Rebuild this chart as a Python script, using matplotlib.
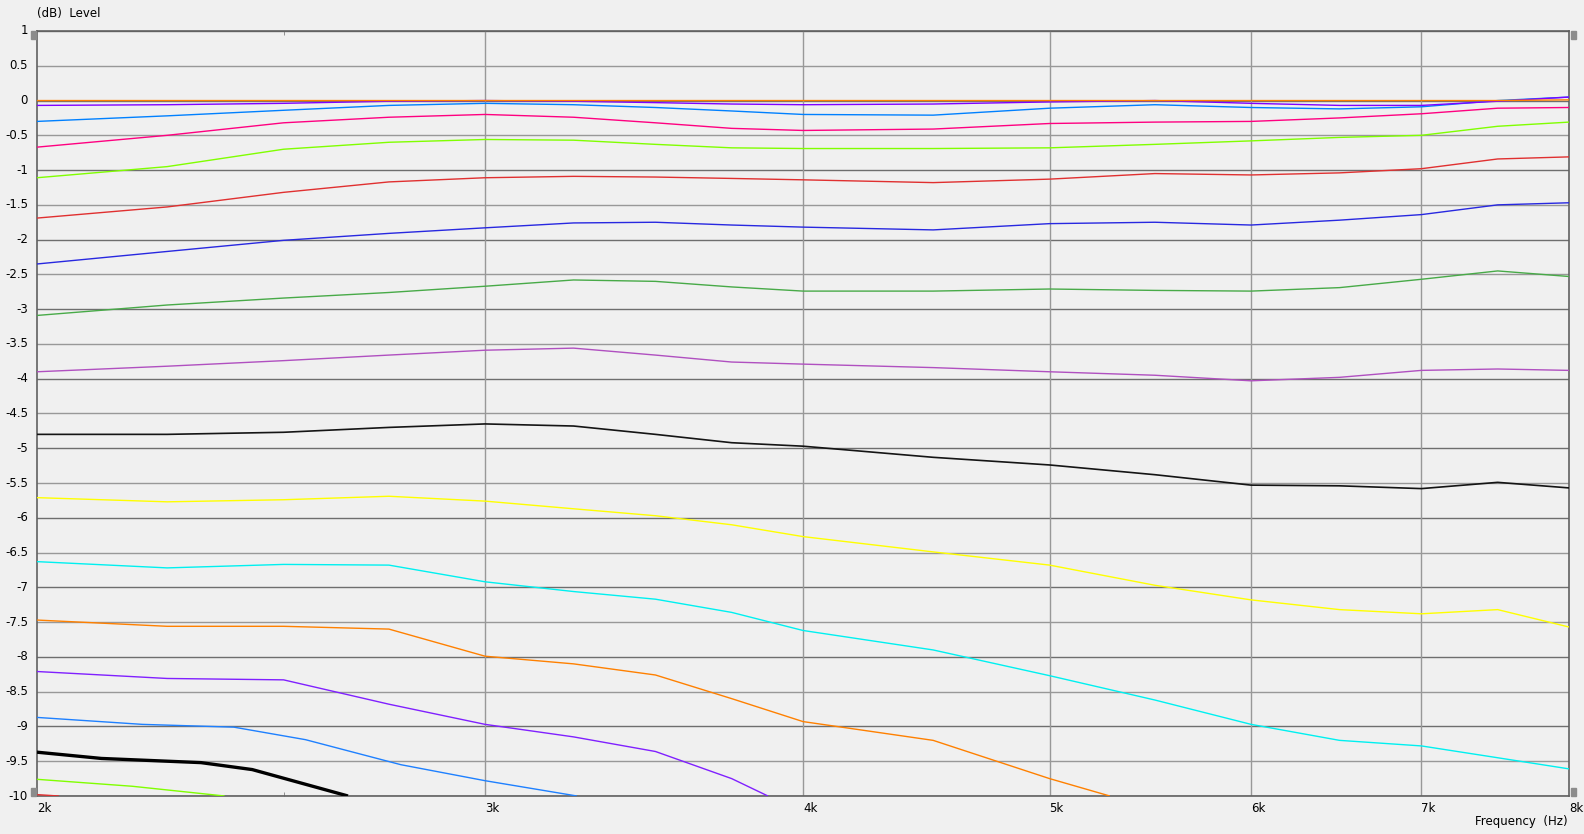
import matplotlib.pyplot as plt
from matplotlib.patches import Rectangle
from matplotlib.transforms import blended_transform_factory

# frequencies (Hz) shared by the full-width curves
freq = [2000, 2250, 2500, 2750, 3000, 3250, 3500, 3750, 4000,
        4500, 5000, 5500, 6000, 6500, 7000, 7500, 8000]

lvl_orange0 = [0, 0, 0, 0, 0, 0, 0, 0, 0, 0, 0, 0, 0, 0, 0, 0, 0.01]
lvl_violet0 = [-0.07, -0.06, -0.04, -0.01, 0.0, -0.01, -0.03, -0.05, -0.06,
               -0.05, -0.02, 0.0, -0.04, -0.07, -0.07, -0.01, 0.05]
lvl_blue0 = [-0.3, -0.22, -0.14, -0.07, -0.04, -0.06, -0.1, -0.15, -0.2,
             -0.21, -0.11, -0.06, -0.1, -0.12, -0.09, 0.0, 0.05]
lvl_pink = [-0.67, -0.5, -0.32, -0.24, -0.2, -0.24, -0.32, -0.4, -0.43,
            -0.41, -0.33, -0.31, -0.3, -0.25, -0.19, -0.11, -0.1]
lvl_lime0 = [-1.11, -0.95, -0.7, -0.6, -0.56, -0.57, -0.63, -0.68, -0.69,
             -0.69, -0.68, -0.63, -0.58, -0.53, -0.5, -0.37, -0.31]
lvl_red0 = [-1.69, -1.53, -1.32, -1.17, -1.11, -1.09, -1.1, -1.12, -1.14,
            -1.18, -1.13, -1.05, -1.07, -1.04, -0.98, -0.84, -0.81]
lvl_dblue = [-2.35, -2.17, -2.01, -1.91, -1.83, -1.76, -1.75, -1.79, -1.82,
             -1.86, -1.77, -1.75, -1.79, -1.72, -1.64, -1.5, -1.47]
lvl_green = [-3.09, -2.94, -2.84, -2.76, -2.67, -2.58, -2.6, -2.68, -2.74,
             -2.74, -2.71, -2.73, -2.74, -2.69, -2.57, -2.45, -2.53]
lvl_purple = [-3.9, -3.82, -3.74, -3.66, -3.59, -3.56, -3.66, -3.76, -3.79,
              -3.84, -3.9, -3.95, -4.03, -3.98, -3.88, -3.86, -3.88]
lvl_black0 = [-4.8, -4.8, -4.77, -4.7, -4.65, -4.68, -4.8, -4.92, -4.97,
              -5.13, -5.24, -5.38, -5.53, -5.54, -5.58, -5.49, -5.57]
lvl_yellow = [-5.71, -5.77, -5.74, -5.69, -5.76, -5.87, -5.97, -6.1, -6.27,
              -6.49, -6.68, -6.97, -7.18, -7.32, -7.38, -7.32, -7.57]
lvl_cyan = [-6.63, -6.72, -6.67, -6.68, -6.92, -7.06, -7.17, -7.36, -7.62,
            -7.9, -8.27, -8.62, -8.97, -9.2, -9.28, -9.45, -9.61]

# curves that run off the bottom of the chart
freq_orange1 = [2000, 2250, 2500, 2750, 3000, 3250, 3500, 3750, 4000, 4500, 5000, 5280]
lvl_orange1 = [-7.47, -7.56, -7.56, -7.6, -7.99, -8.1, -8.26, -8.6, -8.93, -9.2, -9.75, -10.0]
freq_violet1 = [2000, 2250, 2500, 2750, 3000, 3250, 3500, 3750, 3875]
lvl_violet1 = [-8.21, -8.31, -8.33, -8.68, -8.97, -9.15, -9.36, -9.75, -10.0]
freq_blue1 = [2000, 2200, 2390, 2550, 2780, 3000, 3260]
lvl_blue1 = [-8.87, -8.97, -9.01, -9.19, -9.55, -9.78, -10.0]
freq_black1 = [2000, 2120, 2320, 2430, 2650]
lvl_black1 = [-9.37, -9.46, -9.52, -9.62, -10.0]
freq_lime1 = [2000, 2180, 2370]
lvl_lime1 = [-9.76, -9.86, -10.0]
freq_red1 = [2000, 2040]
lvl_red1 = [-9.98, -10.0]

series = [
    (freq, lvl_cyan, '#00F0F0', 1.0),
    (freq, lvl_yellow, '#FFFF00', 1.0),
    (freq, lvl_black0, '#141414', 1.2),
    (freq, lvl_purple, '#B050C0', 1.0),
    (freq, lvl_green, '#48AA48', 1.0),
    (freq, lvl_dblue, '#2828E0', 1.0),
    (freq, lvl_red0, '#E03030', 1.0),
    (freq, lvl_lime0, '#80FF00', 1.0),
    (freq, lvl_pink, '#FF0080', 1.0),
    (freq, lvl_blue0, '#0080FF', 1.0),
    (freq, lvl_violet0, '#8000FF', 1.0),
    (freq_orange1, lvl_orange1, '#FF8000', 1.0),
    (freq_violet1, lvl_violet1, '#8020FF', 1.0),
    (freq_blue1, lvl_blue1, '#1E80FF', 1.0),
    (freq_black1, lvl_black1, '#000000', 2.4),
    (freq_lime1, lvl_lime1, '#80FF00', 1.0),
    (freq_red1, lvl_red1, '#E03030', 1.0),
    (freq, lvl_orange0, '#FF8000', 1.0),
]

yticks = [i * 0.5 for i in range(-20, 3)]
xticks = [2000, 3000, 4000, 5000, 6000, 7000, 8000]
xlabels = ['2k', '3k', '4k', '5k', '6k', '7k', '8k']

bg = '#F0F0F0'
fig = plt.figure(figsize=(15.84, 8.34), dpi=100, facecolor=bg)
W, H = 1584, 834
x0, x1, y0, y1 = 37, 1569, 31, 796
ax = fig.add_axes([x0 / W, 1 - y1 / H, (x1 - x0) / W, (y1 - y0) / H], facecolor=bg)

ax.set_xscale('log')
ax.set_xlim(2000, 8000)
ax.set_ylim(-10, 1)

# grid: integer dB darker, half dB lighter
for v in yticks:
    c = '#6E6E6E' if v == int(v) else '#989898'
    ax.axhline(v, color=c, lw=1.0, zorder=1)
for f in xticks[1:-1]:
    ax.axvline(f, color='#989898', lw=1.0, zorder=1)

for fx, lv, col, lw in series:
    ax.plot(fx, lv, color=col, lw=lw, zorder=3, solid_capstyle='butt')

for s in ax.spines.values():
    s.set_color('#606060')
    s.set_linewidth(1.2)
ax.set_xticks([])
ax.set_yticks([])
ax.minorticks_off()
# small inward minor ticks at 2.5k
ax.set_xticks([2500], minor=True)
ax.tick_params(axis='x', which='minor', direction='in', length=3, color='#808080',
               top=True, bottom=True, labelbottom=False)

fs = 8.5
tr_y = blended_transform_factory(fig.transFigure, ax.transData)
for v in yticks:
    fig.text(28 / W, v, '%g' % v, transform=tr_y, ha='right', va='center', fontsize=fs)

tr_x = blended_transform_factory(ax.transData, fig.transFigure)
for f, lab in zip(xticks, xlabels):
    fig.text(f, 1 - 808 / H, lab, transform=tr_x, ha='left', va='center', fontsize=fs)

fig.text(37 / W, 1 - 14 / H, '(dB)  Level', ha='left', va='center', fontsize=fs)
fig.text(1568 / W, 1 - 821 / H, 'Frequency  (Hz)', ha='right', va='center', fontsize=fs)

# scroll thumbs beside the axes
for (rx, ry) in [(31, 31), (31, 788), (1571, 31), (1571, 788)]:
    fig.patches.append(Rectangle((rx / W, 1 - (ry + 8) / H), 5 / W, 8 / H,
                                 transform=fig.transFigure, color='#8C8C8C'))

plt.savefig('out.png', dpi=100, facecolor=bg)
